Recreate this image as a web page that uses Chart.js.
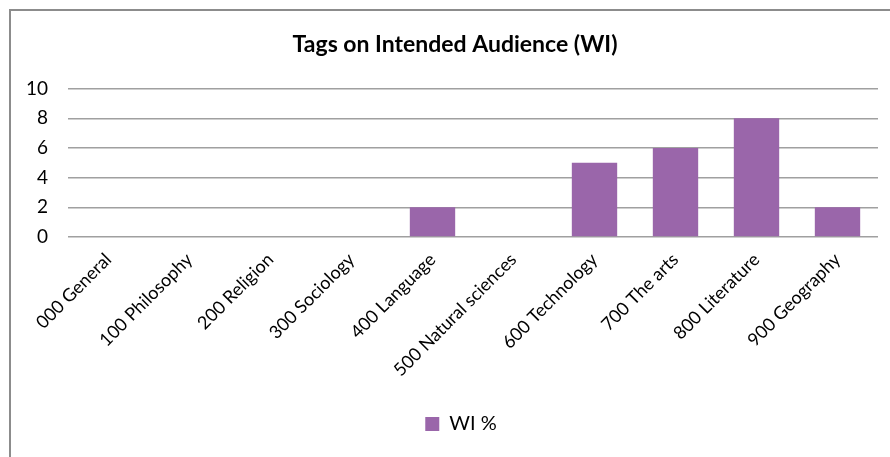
<!DOCTYPE html>
<html>
<head>
<meta charset="utf-8">
<script src="https://cdn.jsdelivr.net/npm/chart.js@4.4.1/dist/chart.umd.min.js"></script>
<style>
  html, body { margin: 0; padding: 0; background: #fff; overflow: hidden; }
  #wrap { position: relative; width: 890px; height: 457px; }
  #frame {
    position: absolute; left: 9px; top: 9px; width: 1000px; height: 1000px;
    border: 2px solid #8c8c8c; box-sizing: border-box;
  }
  canvas { position: absolute; left: 0; top: 0; }
</style>
</head>
<body>
<div id="wrap">
  <div id="frame"></div>
  <canvas id="chart" width="890" height="457"></canvas>
</div>
<script>
// 数据
const categories = [
  "000 General", "100 Philosophy", "200 Religion", "300 Sociology",
  "400 Language", "500 Natural sciences", "600 Technology", "700 The arts",
  "800 Literature", "900 Geography",
];
const wiValues = [0, 0, 0, 0, 2, 0, 5, 6, 8, 2];
const yTicks = [0, 2, 4, 6, 8, 10];

const font = "Lato, 'Liberation Sans', sans-serif";

// 标题和图例稍微右移
const shiftBoxes = {
  id: "shiftBoxes",
  afterLayout(chart) {
    const move = (box, dx) => {
      if (!box) return;
      box.left += dx;
      box.right += dx;
      if (box.legendHitBoxes) box.legendHitBoxes.forEach((h) => { h.left += dx; });
    };
    move(chart.titleBlock, 6);
    move(chart.legend, 12);
  },
};

new Chart(document.getElementById("chart"), {
  type: "bar",
  data: {
    labels: categories,
    datasets: [{
      label: "WI %",
      data: wiValues,
      backgroundColor: "#9a66aa",
      borderWidth: 0,
      categoryPercentage: 1,
      barPercentage: 0.56,
    }],
  },
  options: {
    responsive: false,
    animation: false,
    devicePixelRatio: 1,
    layout: { padding: { left: 20, right: 12, top: 20, bottom: 13 } },
    plugins: {
      title: {
        display: true,
        text: "Tags on Intended Audience (WI)",
        color: "#000",
        font: { family: font, size: 23, weight: "bold" },
        padding: { top: 11, bottom: 30 },
      },
      legend: {
        position: "bottom",
        labels: {
          color: "#000",
          font: { family: font, size: 20 },
          boxWidth: 14,
          boxHeight: 14,
          padding: 8,
        },
      },
      tooltip: { enabled: false },
    },
    scales: {
      x: {
        grid: { display: false },
        border: { display: false },
        ticks: {
          color: "#000",
          font: { family: font, size: 18 },
          maxRotation: 45,
          minRotation: 45,
          padding: 4,
        },
        afterFit: (axis) => { axis.height = 169; },
      },
      y: {
        min: 0,
        max: 10,
        afterBuildTicks: (axis) => { axis.ticks = yTicks.map((v) => ({ value: v })); },
        grid: { color: "#a0a0a0", drawTicks: false, lineWidth: 1.5 },
        border: { display: false },
        ticks: {
          color: "#000",
          font: { family: font, size: 19 },
          padding: 20,
        },
        afterFit: (axis) => { axis.width = 48; },
      },
    },
  },
  plugins: [shiftBoxes],
});
</script>
</body>
</html>
